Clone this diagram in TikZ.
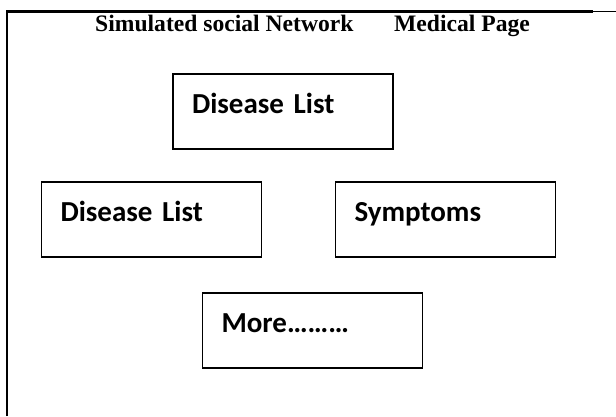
\documentclass[tikz,border=0pt]{standalone}
\usepackage{fontspec}
\setmainfont{Liberation Serif}
\newfontfamily\boxfont{Carlito}
\usetikzlibrary{positioning}

\begin{document}
\begin{tikzpicture}[x=1pt, y=-1pt, node distance={294pt}, panel/.style = {draw, rectangle, line width=1.8pt, font=\boxfont\bfseries\fontsize{29}{29}\selectfont, text width=182pt, align=left, inner xsep=19pt, inner ysep=0pt, text height=39pt, text depth=36pt}, heading/.style = {anchor=base west, inner sep=0pt, font=\bfseries\fontsize{23.6}{24}\selectfont}]
\useasboundingbox (0,0) rectangle (616,416);
% page frame
\coordinate (fa) at (7,416);
\coordinate (fb) at (7,11.5);
\coordinate (fc) at (593,11.5);
\coordinate (fd) at (616,11.5);
\draw[line width=2.5pt] (fa) -- (fb) -- (fc);
\draw[line width=1pt] (fc) -- (fd);
% headings
\node[heading] (site) at (95,31) {Simulated social Network};
\node[heading] (page) at (394,31) {Medical Page};
% boxes
\node[panel] (list1) at (283,111.5) {Disease List};
\node[panel] (list2) at (151.5,219.5) {Disease List};
\node[panel] (symp) [right of=list2] {Symptoms};
\node[panel] (more) at (312.5,330.5) {More………};
\end{tikzpicture}
\end{document}
